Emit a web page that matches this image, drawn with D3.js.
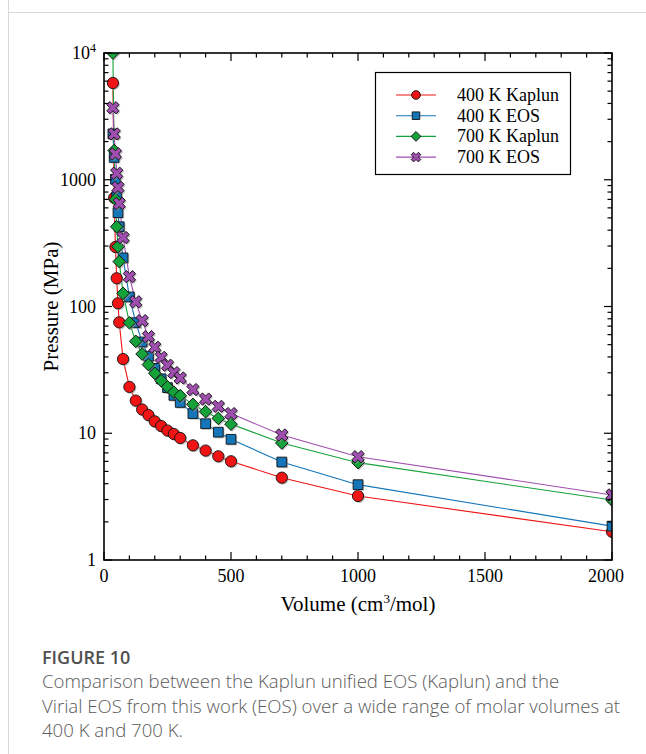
<!DOCTYPE html>
<html>
<head>
<meta charset="utf-8">
<script src="https://cdn.jsdelivr.net/npm/d3@7"></script>
<style>
  html, body { margin: 0; padding: 0; background: #fff; }
  svg { display: block; }
</style>
</head>
<body>
<svg id="chart" width="646" height="754"></svg>
<script>
// Molar volumes (cm3/mol) shared by all four series
const volumes = [35, 40, 45, 50, 55, 60, 75, 100, 125, 150, 175, 200, 225, 250, 275, 300, 350, 400, 450, 500, 700, 1000, 2000];

// Pressure (MPa) for each series
const kaplun400 = [5800, 720, 295, 167, 106, 75, 38.5, 23.2, 18.1, 15.4, 13.9, 12.4, 11.4, 10.5, 9.86, 9.18, 8.03, 7.3, 6.58, 6.01, 4.46, 3.2, 1.67];
const eos400    = [2300, 1500, 1010, 735, 550, 426, 242, 119, 74.5, 52.5, 40.5, 32.5, 26.9, 22.9, 19.9, 17.5, 14.3, 11.9, 10.2, 8.96, 5.93, 3.93, 1.85];
const kaplun700 = [10000, 1700, 700, 426, 297, 226, 127, 74.5, 53.1, 42.2, 34.8, 29.7, 26.0, 23.2, 21.1, 19.8, 16.9, 14.8, 13.1, 11.8, 8.38, 5.86, 2.97];
const eos700    = [3700, 2300, 1600, 1125, 870, 650, 350, 172, 109, 77.3, 57.8, 47.7, 39.7, 34.4, 30.1, 27.3, 22.1, 18.6, 16.3, 14.3, 9.69, 6.53, 3.26];

const seriesNames = ["400 K Kaplun", "400 K EOS", "700 K Kaplun", "700 K EOS"];

// Axis ticks
const xMajorTicks = [0, 500, 1000, 1500, 2000];
const xMinorTicks = d3.range(0, 2001, 100);
const yMajorTicks = [1, 10, 100, 1000, 10000];
const yTickLabels = ["1", "10", "100", "1000", "10^4"];

const svg = d3.select("#chart");
const W = 646, H = 754;
const plot = { left: 104, right: 612, top: 53, bottom: 560 };

const x = d3.scaleLinear().domain([0, 2000]).range([plot.left, plot.right]);
const y = d3.scaleLog().domain([1, 10000]).range([plot.bottom, plot.top]);

const styles = [
  { color: "#f01414", shape: "circle" },
  { color: "#1476b8", shape: "square" },
  { color: "#16a23a", shape: "diamond" },
  { color: "#a04eb0", shape: "x" }
];
const seriesValues = [kaplun400, eos400, kaplun700, eos700];

// Outer page frame lines
svg.append("line").attr("x1", 8.5).attr("x2", 8.5).attr("y1", 0).attr("y2", H)
  .attr("stroke", "#d9d9d9").attr("stroke-width", 1);
svg.append("line").attr("x1", 8).attr("x2", W).attr("y1", 12.5).attr("y2", 12.5)
  .attr("stroke", "#d9d9d9").attr("stroke-width", 1);

const defs = svg.append("defs");
defs.append("clipPath").attr("id", "plotClip")
  .append("rect").attr("x", plot.left).attr("y", plot.top)
  .attr("width", plot.right - plot.left).attr("height", plot.bottom - plot.top);

function symbolPath(shape, size) {
  if (shape === "circle") return d3.symbol(d3.symbolCircle, size)();
  if (shape === "square") return d3.symbol(d3.symbolSquare, size)();
  if (shape === "diamond") return d3.symbol(d3.symbolSquare, size)();
  return d3.symbol(d3.symbolCross, size)();
}
function symbolRotate(shape) {
  return (shape === "diamond" || shape === "x") ? 45 : 0;
}
const markerSize = { circle: 100, square: 95, diamond: 80, x: 95 };

// Series lines and markers
const lineGen = d3.line().x(d => x(d[0])).y(d => y(d[1]));
const g = svg.append("g").attr("clip-path", "url(#plotClip)");

seriesValues.forEach((vals, i) => {
  const pts = volumes.map((v, j) => [v, vals[j]]);
  g.append("path").datum(pts)
    .attr("d", lineGen).attr("fill", "none")
    .attr("stroke", styles[i].color).attr("stroke-width", 1.1);
});

seriesValues.forEach((vals, i) => {
  const pts = volumes.map((v, j) => [v, vals[j]]);
  const st = styles[i];
  const path = symbolPath(st.shape, markerSize[st.shape]);
  const rot = symbolRotate(st.shape);
  // soft drop shadow under each marker
  g.append("g").selectAll("path").data(pts).join("path")
    .attr("d", path)
    .attr("transform", d => `translate(${x(d[0]) + 1.3},${y(d[1]) + 1.3}) rotate(${rot})`)
    .attr("fill", "#9a9a9a").attr("opacity", 0.6);
  g.append("g").selectAll("path").data(pts).join("path")
    .attr("d", path)
    .attr("transform", d => `translate(${x(d[0])},${y(d[1])}) rotate(${rot})`)
    .attr("fill", st.color).attr("stroke", "#111").attr("stroke-width", 0.9);
});

// Plot frame
svg.append("rect")
  .attr("x", plot.left).attr("y", plot.top)
  .attr("width", plot.right - plot.left).attr("height", plot.bottom - plot.top)
  .attr("fill", "none").attr("stroke", "#000").attr("stroke-width", 1.6);

// Inward ticks on all four sides
const tickG = svg.append("g").attr("stroke", "#000").attr("stroke-width", 1.2);
const majorLen = 8, minorLen = 4.5;
xMinorTicks.forEach(v => {
  const len = xMajorTicks.includes(v) ? majorLen : minorLen;
  const px = x(v);
  tickG.append("line").attr("x1", px).attr("x2", px).attr("y1", plot.bottom).attr("y2", plot.bottom - len);
  tickG.append("line").attr("x1", px).attr("x2", px).attr("y1", plot.top).attr("y2", plot.top + len);
});
const yMinorTicks = [];
for (let e = 0; e < 4; e++) for (let m = 2; m <= 9; m++) yMinorTicks.push(m * Math.pow(10, e));
yMajorTicks.forEach(v => {
  const py = y(v);
  tickG.append("line").attr("x1", plot.left).attr("x2", plot.left + majorLen).attr("y1", py).attr("y2", py);
  tickG.append("line").attr("x1", plot.right).attr("x2", plot.right - majorLen).attr("y1", py).attr("y2", py);
});
yMinorTicks.forEach(v => {
  const py = y(v);
  tickG.append("line").attr("x1", plot.left).attr("x2", plot.left + minorLen).attr("y1", py).attr("y2", py);
  tickG.append("line").attr("x1", plot.right).attr("x2", plot.right - minorLen).attr("y1", py).attr("y2", py);
});

const serif = "'Liberation Serif', 'Times New Roman', serif";

// X tick labels
svg.append("g").selectAll("text").data(xMajorTicks).join("text")
  .attr("x", d => x(d) - (d === 2000 ? 6 : 0))
  .attr("y", plot.bottom + 22)
  .attr("text-anchor", "middle")
  .attr("font-family", serif).attr("font-size", 18).attr("fill", "#000")
  .text(d => d);

// Y tick labels (10^4 drawn with a superscript)
yMajorTicks.forEach((v, i) => {
  const lab = yTickLabels[i];
  const t = svg.append("text")
    .attr("x", plot.left - 8).attr("y", y(v) + 6)
    .attr("text-anchor", "end")
    .attr("font-family", serif).attr("font-size", 18).attr("fill", "#000");
  if (lab.includes("^")) {
    const [base, exp] = lab.split("^");
    t.append("tspan").text(base);
    t.append("tspan").attr("dy", -7).attr("font-size", 12).text(exp);
  } else {
    t.text(lab);
  }
});

// Axis titles
const xt = svg.append("text")
  .attr("x", (plot.left + plot.right) / 2).attr("y", 611)
  .attr("text-anchor", "middle")
  .attr("font-family", serif).attr("font-size", 21).attr("fill", "#000");
xt.append("tspan").text("Volume (cm");
xt.append("tspan").attr("dy", -8).attr("font-size", 13).text("3");
xt.append("tspan").attr("dy", 8).text("/mol)");

svg.append("text")
  .attr("transform", `translate(58,${(plot.top + plot.bottom) / 2}) rotate(-90)`)
  .attr("text-anchor", "middle")
  .attr("font-family", serif).attr("font-size", 21).attr("fill", "#000")
  .text("Pressure (MPa)");

// Legend
const leg = svg.append("g");
leg.append("rect").attr("x", 375.5).attr("y", 72.5).attr("width", 195).attr("height", 102)
  .attr("fill", "#fff").attr("stroke", "#000").attr("stroke-width", 1.2);
seriesNames.forEach((name, i) => {
  const ly = 95 + i * 20.7;
  const st = styles[i];
  leg.append("line").attr("x1", 396).attr("x2", 436).attr("y1", ly).attr("y2", ly)
    .attr("stroke", st.color).attr("stroke-width", 1.1);
  leg.append("path")
    .attr("d", symbolPath(st.shape, markerSize[st.shape] * 0.6))
    .attr("transform", `translate(416,${ly}) rotate(${symbolRotate(st.shape)})`)
    .attr("fill", st.color).attr("stroke", "#111").attr("stroke-width", 0.9);
  leg.append("text").attr("x", 457).attr("y", ly + 6)
    .attr("font-family", serif).attr("font-size", 18).attr("fill", "#000")
    .text(name);
});

// Caption
const sans = "'Open Sans', 'Noto Sans', sans-serif";
svg.append("text").attr("x", 42).attr("y", 664)
  .attr("font-family", sans).attr("font-size", 18).attr("font-weight", 600).attr("fill", "#505050")
  .text("FIGURE 10");
const capLines = [
  "Comparison between the Kaplun unified EOS (Kaplun) and the",
  "Virial EOS from this work (EOS) over a wide range of molar volumes at",
  "400 K and 700 K."
];
svg.append("g").selectAll("text").data(capLines).join("text")
  .attr("x", 42).attr("y", (d, i) => 688 + i * 24.5)
  .attr("font-family", sans).attr("font-size", 18.6).attr("font-weight", 300).attr("fill", "#5a5a5a")
  .text(d => d);
</script>
</body>
</html>
